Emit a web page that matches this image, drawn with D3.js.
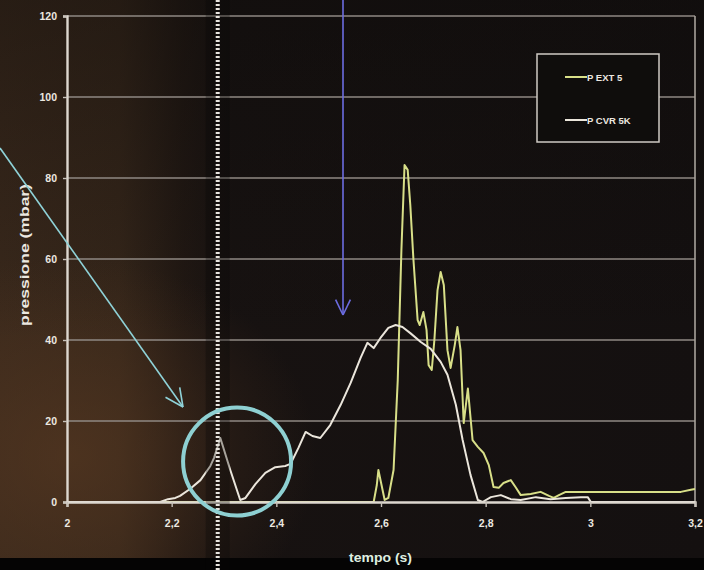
<!DOCTYPE html>
<html>
<head>
<meta charset="utf-8">
<script src="https://cdn.jsdelivr.net/npm/d3@7"></script>
<style>
  html, body { margin: 0; padding: 0; background: #000; }
  svg { display: block; }
</style>
</head>
<body>
<svg id="chart" width="704" height="570"></svg>
<script>
// Pressure traces (mbar) against time (s)
const timeCVR = [2.00, 2.178, 2.193, 2.207, 2.216, 2.235, 2.255, 2.274, 2.281, 2.293, 2.312, 2.331, 2.341, 2.360, 2.379, 2.398, 2.417, 2.427, 2.442, 2.456, 2.469, 2.484, 2.503, 2.523, 2.542, 2.561, 2.574, 2.586, 2.599, 2.614, 2.628, 2.641, 2.656, 2.676, 2.695, 2.714, 2.727, 2.743, 2.756, 2.771, 2.785, 2.794, 2.810, 2.829, 2.848, 2.867, 2.896, 2.924, 2.953, 2.982, 2.995, 3.001, 3.20];
const valueCVR = [0, 0, 0.7, 1.0, 1.5, 3.2, 5.4, 8.9, 10.9, 15.8, 7.9, 0.5, 1.0, 4.4, 7.2, 8.6, 8.9, 9.4, 13.3, 17.3, 16.3, 15.8, 19.0, 24.0, 29.4, 35.6, 39.3, 38.0, 40.5, 43.0, 43.7, 43.2, 41.7, 39.5, 37.8, 34.6, 31.4, 24.0, 15.3, 6.7, 0.5, 0, 1.2, 1.7, 0.7, 0.5, 1.2, 0.7, 1.0, 1.2, 1.2, 0, 0];

const timeEXT = [2.00, 2.586, 2.592, 2.595, 2.601, 2.607, 2.614, 2.624, 2.632, 2.639, 2.645, 2.651, 2.656, 2.662, 2.670, 2.674, 2.681, 2.687, 2.691, 2.697, 2.702, 2.708, 2.714, 2.720, 2.727, 2.733, 2.741, 2.746, 2.752, 2.758, 2.766, 2.775, 2.785, 2.796, 2.806, 2.815, 2.825, 2.834, 2.848, 2.857, 2.867, 2.886, 2.905, 2.921, 2.930, 2.940, 2.953, 3.058, 3.173, 3.192, 3.20];
const valueEXT = [0, 0, 4.2, 7.9, 4.2, 0.5, 1.0, 7.9, 30.1, 62.2, 83.2, 82.0, 73.3, 59.8, 44.9, 43.7, 46.9, 42.5, 33.8, 32.6, 40.0, 52.3, 56.8, 53.6, 37.5, 33.1, 38.8, 43.2, 37.5, 19.5, 28.0, 15.3, 13.6, 12.1, 9.1, 3.7, 3.5, 4.7, 5.4, 3.7, 1.7, 2.0, 2.5, 1.5, 1.0, 1.7, 2.5, 2.5, 2.5, 3.0, 3.2];

const seriesNames = ["P EXT 5", "P CVR 5K"];
const xTicks = [2, 2.2, 2.4, 2.6, 2.8, 3, 3.2];
const xTickLabels = ["2", "2,2", "2,4", "2,6", "2,8", "3", "3,2"];
const yTicks = [0, 20, 40, 60, 80, 100, 120];
const xTitle = "tempo (s)";
const yTitle = "pressione (mbar)";

const W = 704, H = 570;
const plot = { left: 67, right: 695, top: 16, bottom: 502 };
const colEXT = "#d8df88";
const colCVR = "#ebe6dc";
const textCol = "#ece8e0";
const font = "Liberation Sans, Arial, sans-serif";

const svg = d3.select("#chart");
const defs = svg.append("defs");

// dark photographic backdrop, warmer on the left
const bg = defs.append("linearGradient").attr("id", "bgGrad")
  .attr("x1", "0").attr("x2", "1").attr("y1", "0").attr("y2", "0");
[["0%", "#3a291c"], ["17%", "#35261a"], ["26%", "#211813"], ["33%", "#171211"], ["100%", "#141010"]]
  .forEach(([o, c]) => bg.append("stop").attr("offset", o).attr("stop-color", c));
const warm = defs.append("radialGradient").attr("id", "warmGrad")
  .attr("cx", "0.1").attr("cy", "0.8").attr("r", "0.35");
warm.append("stop").attr("offset", "0%").attr("stop-color", "#5a3a22").attr("stop-opacity", 0.6);
warm.append("stop").attr("offset", "100%").attr("stop-color", "#5a3a22").attr("stop-opacity", 0);
const topShade = defs.append("linearGradient").attr("id", "topShade")
  .attr("x1", "0").attr("x2", "0").attr("y1", "0").attr("y2", "1");
topShade.append("stop").attr("offset", "0%").attr("stop-color", "#0c0a09").attr("stop-opacity", 0.4);
topShade.append("stop").attr("offset", "60%").attr("stop-color", "#0c0a09").attr("stop-opacity", 0);

svg.append("rect").attr("width", W).attr("height", H).attr("fill", "url(#bgGrad)");
svg.append("rect").attr("width", W).attr("height", H).attr("fill", "url(#warmGrad)");
svg.append("rect").attr("width", W).attr("height", H).attr("fill", "url(#topShade)");
svg.append("rect").attr("x", 0).attr("y", 558).attr("width", W).attr("height", H - 558).attr("fill", "#050404");

const x = d3.scaleLinear().domain([2, 3.2]).range([plot.left, plot.right]);
const y = d3.scaleLinear().domain([0, 120]).range([plot.bottom, plot.top]);

// horizontal gridlines
svg.append("g").selectAll("line").data(yTicks.filter(v => v > 0)).join("line")
  .attr("x1", plot.left).attr("x2", plot.right)
  .attr("y1", d => y(d)).attr("y2", d => y(d))
  .attr("stroke", "#8f8983").attr("stroke-width", 1.6);

// right frame edge
svg.append("line").attr("x1", plot.right).attr("x2", plot.right)
  .attr("y1", plot.top).attr("y2", plot.bottom)
  .attr("stroke", "#a8a29b").attr("stroke-width", 1.6);

// series
const line = d3.line().x(d => x(d[0])).y(d => y(d[1])).curve(d3.curveLinear);
const ptsCVR = timeCVR.map((t, i) => [t, valueCVR[i]]);
const ptsEXT = timeEXT.map((t, i) => [t, valueEXT[i]]);
svg.append("path").datum(ptsEXT).attr("d", line)
  .attr("fill", "none").attr("stroke", colEXT).attr("stroke-width", 2)
  .attr("stroke-linejoin", "round");
svg.append("path").datum(ptsCVR).attr("d", line)
  .attr("fill", "none").attr("stroke", colCVR).attr("stroke-width", 2)
  .attr("stroke-linejoin", "round");

// axes (drawn over the traces so the baseline stays light)
const yAxis = d3.axisLeft(y).tickValues(yTicks).tickSize(4).tickPadding(6).tickFormat(d3.format("d"));
const gy = svg.append("g").attr("transform", `translate(${plot.left},0)`).call(yAxis);
const xAxis = d3.axisBottom(x).tickValues(xTicks).tickSize(5).tickPadding(13)
  .tickFormat((d, i) => xTickLabels[i]);
const gx = svg.append("g").attr("transform", `translate(0,${plot.bottom})`).call(xAxis);
[gx, gy].forEach(g => {
  g.select(".domain").attr("stroke", "#ddd7cf").attr("stroke-width", 2.4);
  g.selectAll(".tick line").attr("stroke", "#c8c2ba").attr("stroke-width", 1.4);
  g.selectAll(".tick text").attr("fill", textCol)
    .attr("font-family", font).attr("font-size", 10.5).attr("font-weight", "bold");
});

// axis titles
svg.append("text").attr("x", 349).attr("y", 562)
  .attr("textLength", 63).attr("lengthAdjust", "spacingAndGlyphs")
  .attr("font-family", font).attr("font-size", 12.5)
  .attr("font-weight", "bold").attr("fill", "#dfeee0").text(xTitle);
svg.append("text").attr("transform", "translate(29,255) rotate(-90)")
  .attr("text-anchor", "middle")
  .attr("textLength", 142).attr("lengthAdjust", "spacingAndGlyphs")
  .attr("font-family", font).attr("font-size", 12)
  .attr("font-weight", "bold").attr("fill", textCol).text(yTitle);

// legend
const lg = svg.append("g");
lg.append("rect").attr("x", 537).attr("y", 54).attr("width", 122).attr("height", 88)
  .attr("fill", "#0f0d0c").attr("stroke", "#cfcac4").attr("stroke-width", 1.5);
const legendRows = [{ name: seriesNames[0], color: colEXT, yy: 77 }, { name: seriesNames[1], color: colCVR, yy: 120 }];
legendRows.forEach(r => {
  lg.append("line").attr("x1", 565).attr("x2", 587).attr("y1", r.yy).attr("y2", r.yy)
    .attr("stroke", r.color).attr("stroke-width", 2);
  lg.append("text").attr("x", 587).attr("y", r.yy + 3.5)
    .attr("font-family", font).attr("font-size", 9.5)
    .attr("font-weight", "bold").attr("fill", textCol).text(r.name);
});

// dotted time marker
const markerX = x(2.288);
svg.append("rect").attr("x", markerX - 12).attr("y", 0).attr("width", 24).attr("height", H)
  .attr("fill", "#080605").attr("opacity", 0.3);
svg.append("line").attr("x1", markerX).attr("x2", markerX).attr("y1", 0).attr("y2", H)
  .attr("stroke", "#e8e4de").attr("stroke-width", 4).attr("stroke-dasharray", "2,2");

// annotation: highlighted first peak
svg.append("circle").attr("cx", x(2.325)).attr("cy", y(10)).attr("r", 54)
  .attr("fill", "none").attr("stroke", "#8ed0d2").attr("stroke-width", 4);

// annotation arrows
function arrow(x1, y1, x2, y2, color, width, head) {
  const g = svg.append("g").attr("stroke", color).attr("stroke-width", width).attr("fill", "none");
  g.append("line").attr("x1", x1).attr("y1", y1).attr("x2", x2).attr("y2", y2);
  const a = Math.atan2(y2 - y1, x2 - x1);
  [0.45, -0.45].forEach(s => {
    g.append("line").attr("x1", x2).attr("y1", y2)
      .attr("x2", x2 - head * Math.cos(a + s)).attr("y2", y2 - head * Math.sin(a + s));
  });
}
arrow(0, 148, 183, 407, "#8fd2d8", 1.6, 20);
arrow(343, 0, 343, 315, "#6c6ce0", 1.6, 17);
</script>
</body>
</html>
